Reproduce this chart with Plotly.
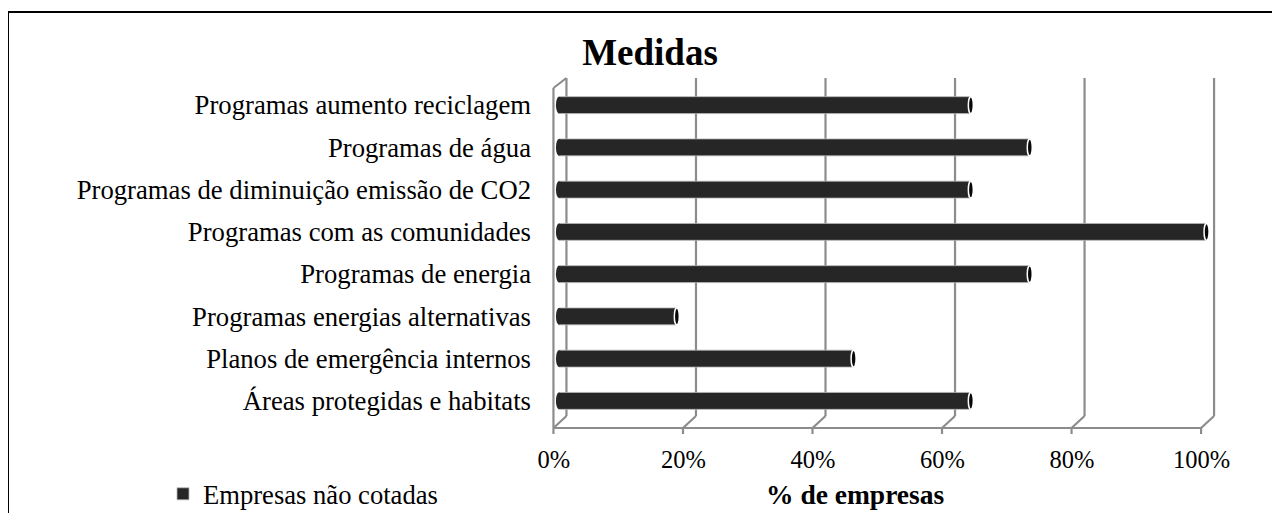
import plotly.graph_objects as go

# ---------------- data ----------------
categories = [
    "Programas aumento reciclagem",
    "Programas de água",
    "Programas de diminuição emissão de CO2",
    "Programas com as comunidades",
    "Programas de energia",
    "Programas energias alternativas",
    "Planos de emergência internos",
    "Áreas protegidas e habitats",
]
values = [63.6, 72.7, 63.6, 100.0, 72.7, 18.2, 45.5, 63.6]
series_name = "Empresas não cotadas"
x_ticks = [0, 20, 40, 60, 80, 100]
x_ticktext = ["0%", "20%", "40%", "60%", "80%", "100%"]
chart_title = "Medidas"
x_title = "% de empresas"

# ---------------- geometry / style ----------------
OFF = 8                    # page body margin
W, H = 1280 - OFF, 513 - OFF
L, R = 546 - OFF, 1226 - OFF   # plot area (figure px)
T, B = 84 - OFF, 422 - OFF
XR = [-2, 103]
PPU = (R - L) / (XR[1] - XR[0])
FONT = "Liberation Serif, Times New Roman, serif"
GRID = "#8c8c8c"
BAR = "#262626"


def u(px):
    return px / PPU


def py(y):  # reference-page y -> paper fraction
    return (B - (y - OFF)) / (B - T)


def pxp(x):  # reference-page x -> paper fraction
    return ((x - OFF) - L) / (R - L)


BACK_DX = u(7.5)
FRONT_DX = u(-5.5)
BACK_TOP, BACK_BOT, FRONT_Y, TICK_Y, WALL_TOP_FRONT = 78, 416, 428, 434, 88

fig = go.Figure()
fig.add_trace(go.Bar(
    y=categories, x=values, orientation="h", name=series_name,
    width=0.4, marker=dict(color=BAR, line=dict(color="#b5b5b5", width=0.8)),
    showlegend=True,
))

shapes = []
gl = dict(color=GRID, width=2.2)
for v in x_ticks:
    shapes.append(dict(type="line", xref="x", yref="paper", layer="below",
                       x0=v + BACK_DX, x1=v + BACK_DX, y0=py(BACK_BOT), y1=py(BACK_TOP), line=gl))
    shapes.append(dict(type="line", xref="x", yref="paper", layer="below",
                       x0=v + FRONT_DX, x1=v + BACK_DX, y0=py(FRONT_Y), y1=py(BACK_BOT), line=gl))
    shapes.append(dict(type="line", xref="x", yref="paper", layer="below",
                       x0=v + FRONT_DX, x1=v + FRONT_DX, y0=py(FRONT_Y), y1=py(TICK_Y), line=gl))
# floor front line
shapes.append(dict(type="line", xref="x", yref="paper", layer="below",
                   x0=x_ticks[0] + FRONT_DX, x1=x_ticks[-1] + FRONT_DX,
                   y0=py(FRONT_Y), y1=py(FRONT_Y), line=gl))
# left side wall
shapes.append(dict(type="line", xref="x", yref="paper", layer="below",
                   x0=x_ticks[0] + FRONT_DX, x1=x_ticks[0] + FRONT_DX,
                   y0=py(FRONT_Y), y1=py(WALL_TOP_FRONT), line=gl))
shapes.append(dict(type="line", xref="x", yref="paper", layer="below",
                   x0=x_ticks[0] + FRONT_DX, x1=x_ticks[0] + BACK_DX,
                   y0=py(WALL_TOP_FRONT), y1=py(BACK_TOP), line=gl))

# cylinder caps
for i, v in enumerate(values):
    shapes.append(dict(type="circle", xref="x", yref="y", layer="above",
                       x0=-u(3), x1=u(3), y0=i - 0.2, y1=i + 0.2,
                       fillcolor=BAR, line=dict(width=0)))
    shapes.append(dict(type="circle", xref="x", yref="y", layer="above",
                       x0=v - u(2.5), x1=v + u(2.5), y0=i - 0.2, y1=i + 0.2,
                       fillcolor="#080808", line=dict(color="white", width=1.5)))

# outer border
shapes.append(dict(type="rect", xref="paper", yref="paper",
                   x0=pxp(8), x1=pxp(1300), y0=py(540), y1=py(12),
                   line=dict(color="black", width=2)))

fig.update_layout(
    width=W, height=H,
    margin=dict(l=L, r=W - R, t=T, b=H - B, autoexpand=False),
    paper_bgcolor="white", plot_bgcolor="white",
    font=dict(family=FONT, color="black"),
    title=dict(text="<b>" + chart_title + "</b>", x=(650 - OFF) / W, xanchor="center",
               y=1 - (52 - OFF) / H, yanchor="middle", font=dict(size=37, family=FONT)),
    shapes=shapes,
    showlegend=True,
    legend=dict(orientation="h", x=pxp(163), y=py(494), xanchor="left", yanchor="middle",
                font=dict(size=26.6, family=FONT), bgcolor="rgba(0,0,0,0)"),
    annotations=[dict(text="<b>" + x_title + "</b>", xref="paper", yref="paper",
                      x=pxp(855), y=py(495), xanchor="center", yanchor="middle",
                      showarrow=False, font=dict(size=27.5, family=FONT))],
    bargap=0.6,
)
fig.update_xaxes(range=XR, tickvals=x_ticks, ticktext=x_ticktext, showgrid=False,
                 zeroline=False, showline=False, ticks="", ticklabelshift=-5,
                 ticklabelstandoff=20, tickfont=dict(size=24.5, family=FONT))
fig.update_yaxes(categoryorder="array", categoryarray=categories, range=[7.5, -0.5],
                 showgrid=False, zeroline=False, showline=False, ticks="",
                 ticklabelstandoff=14, tickfont=dict(size=26.7, family=FONT))

fig.write_html("out.html")
